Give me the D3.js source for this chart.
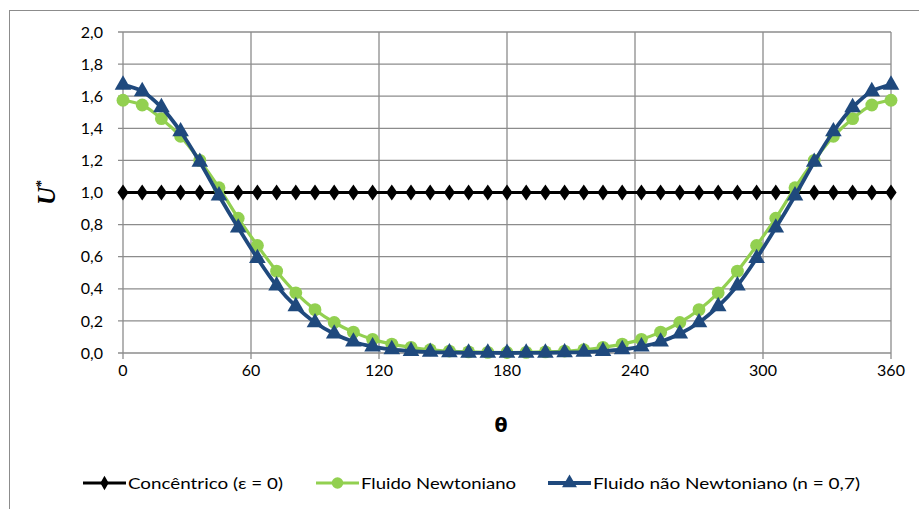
<!DOCTYPE html>
<html>
<head>
<meta charset="utf-8">
<script src="https://cdn.jsdelivr.net/npm/d3@7"></script>
<style>
  body { margin: 0; background: #fff; }
  svg text { font-family: Lato, "Open Sans", sans-serif; fill: #000; }
</style>
</head>
<body>
<main></main>
<script>
// angle θ in degrees
const theta = [0, 9, 18, 27, 36, 45, 54, 63, 72, 81, 90, 99, 108, 117, 126, 135, 144, 153, 162, 171, 180,
  189, 198, 207, 216, 225, 234, 243, 252, 261, 270, 279, 288, 297, 306, 315, 324, 333, 342, 351, 360];

const concentric = [1, 1, 1, 1, 1, 1, 1, 1, 1, 1, 1, 1, 1, 1, 1, 1, 1, 1, 1, 1, 1,
  1, 1, 1, 1, 1, 1, 1, 1, 1, 1, 1, 1, 1, 1, 1, 1, 1, 1, 1, 1];

const newtonian = [1.575, 1.545, 1.46, 1.35, 1.20, 1.03, 0.84, 0.67, 0.51, 0.375, 0.27, 0.19, 0.13, 0.085, 0.055,
  0.035, 0.02, 0.012, 0.007, 0.004, 0.003, 0.004, 0.007, 0.012, 0.02, 0.035, 0.055, 0.085, 0.13, 0.19, 0.27,
  0.375, 0.51, 0.67, 0.84, 1.03, 1.20, 1.35, 1.46, 1.545, 1.575];

const nonNewtonian = [1.67, 1.63, 1.53, 1.38, 1.19, 0.98, 0.78, 0.59, 0.42, 0.29, 0.19, 0.12, 0.07, 0.04, 0.022,
  0.012, 0.006, 0.003, 0.001, 0.0005, 0, 0.0005, 0.001, 0.003, 0.006, 0.012, 0.022, 0.04, 0.07, 0.12, 0.19,
  0.29, 0.42, 0.59, 0.78, 0.98, 1.19, 1.38, 1.53, 1.63, 1.67];

const xTicks = [0, 60, 120, 180, 240, 300, 360];
const yTicks = [0, 0.2, 0.4, 0.6, 0.8, 1.0, 1.2, 1.4, 1.6, 1.8, 2.0];

const seriesNames = ["Concêntrico (ε = 0)", "Fluido Newtoniano", "Fluido não Newtoniano  (n = 0,7)"];

const W = 919, H = 509;
const margin = { top: 32, right: 28, bottom: 156, left: 123 };
const width = W - margin.left - margin.right;
const height = H - margin.top - margin.bottom;

const svg = d3.select("main").append("svg")
  .attr("width", W).attr("height", H);

// outer chart border
svg.append("rect")
  .attr("x", 9.5).attr("y", 10.5)
  .attr("width", 930).attr("height", 520)
  .attr("fill", "none").attr("stroke", "#8c8c8c").attr("stroke-width", 1);

const g = svg.append("g").attr("transform", `translate(${margin.left},${margin.top})`);

const x = d3.scaleLinear().domain([0, 360]).range([0, width]);
const y = d3.scaleLinear().domain([0, 2]).range([height, 0]);
const fmt = v => d3.format(".1f")(v).replace(".", ",");

// grid
g.append("g").selectAll("line").data(yTicks).enter().append("line")
  .attr("x1", -5).attr("x2", width)
  .attr("y1", d => y(d)).attr("y2", d => y(d))
  .attr("stroke", "#8c8c8c").attr("stroke-width", 1.3);

g.append("g").selectAll("line").data(xTicks).enter().append("line")
  .attr("x1", d => x(d)).attr("x2", d => x(d))
  .attr("y1", 0).attr("y2", height + 6)
  .attr("stroke", "#8c8c8c").attr("stroke-width", 1.3);

// tick labels
g.append("g").selectAll("text").data(yTicks).enter().append("text")
  .attr("x", -20).attr("y", d => y(d)).attr("dy", "0.35em")
  .attr("text-anchor", "end").style("font-size", "16px")
  .text(fmt);

g.append("g").selectAll("text").data(xTicks).enter().append("text")
  .attr("x", d => x(d)).attr("y", height + 23)
  .attr("text-anchor", "middle").style("font-size", "16px")
  .text(d => d);

// axis titles
svg.append("text")
  .attr("x", margin.left + width / 2 - 6).attr("y", 432)
  .attr("text-anchor", "middle")
  .style("font-size", "19px").style("font-weight", "bold")
  .style("font-family", "'DejaVu Sans', sans-serif")
  .text("θ");

const yt = svg.append("text")
  .attr("transform", `translate(55,${margin.top + y(1)}) rotate(-90)`)
  .attr("text-anchor", "middle")
  .style("font-family", "'Liberation Serif', 'DejaVu Serif', serif")
  .style("font-size", "25px").style("font-weight", "bold").style("font-style", "italic");
yt.append("tspan").text("U");
yt.append("tspan").attr("dy", -9).style("font-size", "14px").style("font-style", "normal").text("*");

const pts = vals => theta.map((t, i) => [t, vals[i]]);
const line = d3.line().x(d => x(d[0])).y(d => y(d[1])).curve(d3.curveCatmullRom.alpha(0.5));

const series = [
  { name: seriesNames[0], vals: concentric, color: "#000000", sw: 3, marker: d3.symbolDiamond, size: 75 },
  { name: seriesNames[1], vals: newtonian, color: "#92d050", sw: 3.2, marker: d3.symbolCircle, size: 130 },
  { name: seriesNames[2], vals: nonNewtonian, color: "#1f497d", sw: 3.8, marker: d3.symbolTriangle, size: 120 }
];

series.forEach(s => {
  const data = pts(s.vals);
  g.append("path").datum(data)
    .attr("d", line)
    .attr("fill", "none").attr("stroke", s.color).attr("stroke-width", s.sw);
  g.append("g").selectAll("path").data(data).enter().append("path")
    .attr("d", d3.symbol().type(s.marker).size(s.size))
    .attr("transform", d => s.marker === d3.symbolDiamond
      ? `translate(${x(d[0])},${y(d[1])}) scale(1.2,1)`
      : `translate(${x(d[0])},${y(d[1])})`)
    .attr("fill", s.color);
});

// legend
const legendX = [83, 316, 548];
const legend = svg.append("g").selectAll("g").data(series).enter().append("g")
  .attr("transform", (d, i) => `translate(${legendX[i]},483)`);

legend.append("line")
  .attr("x1", 0).attr("x2", 43)
  .attr("stroke", d => d.color).attr("stroke-width", d => d.sw);
legend.append("path")
  .attr("d", d => d3.symbol().type(d.marker).size(d.size * 0.8)())
  .attr("transform", "translate(21.5,0)")
  .attr("fill", d => d.color);
const legendW = [155, 155, 267];
legend.append("text")
  .attr("x", 45).attr("dy", "0.35em")
  .style("font-size", "16px")
  .attr("textLength", (d, i) => legendW[i])
  .attr("lengthAdjust", "spacingAndGlyphs")
  .text(d => d.name);
</script>
</body>
</html>
